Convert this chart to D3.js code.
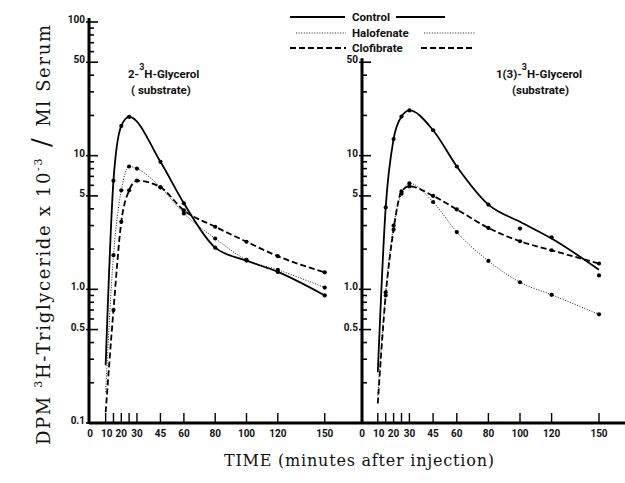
<!DOCTYPE html>
<html>
<head>
<meta charset="utf-8">
<script src="https://cdn.jsdelivr.net/npm/d3@7"></script>
<style>
  body { margin: 0; background: #fff; }
  svg { display: block; }
  .lbl { font-family: Roboto, "DejaVu Sans", sans-serif; font-weight: bold; font-size: 10px; fill: #111; }
  .ann { font-family: Roboto, "DejaVu Sans", sans-serif; font-weight: bold; font-size: 11.5px; fill: #111; }
  .title { font-family: "DejaVu Serif", "Liberation Serif", serif; fill: #111; }
</style>
</head>
<body>
<div id="chart"></div>
<script>
// sampling times (minutes after injection)
const times = [10, 15, 20, 25, 30, 45, 60, 80, 100, 120, 150];

// 2-3H-Glycerol panel (DPM x 10^-3 / ml serum), measured points
const leftControl    = [0.27, 6.5, 16.7, 19.5, null, 9.0, 4.4, 2.05, 1.64, 1.35, 0.9];
const leftHalofenate = [0.17, 1.8, 5.5, 8.3, 8.0, 5.8, 3.7, 2.4, 1.66, 1.4, 1.03];
const leftClofibrate = [0.12, 0.7, 3.2, 5.5, 6.5, 5.8, 3.9, 2.94, 2.27, 1.77, 1.34];

// 1(3)-3H-Glycerol panel, measured points
const rightControl    = [0.24, 4.1, 13.3, 19.6, 21.8, 15.5, 8.3, 4.3, 2.85, 2.45, 1.27];
const rightHalofenate = [0.16, 0.95, 3.0, 5.2, 6.2, 4.5, 2.68, 1.63, 1.13, 0.91, 0.65];
const rightClofibrate = [0.14, 0.9, 2.8, 5.4, 5.9, 5.0, 3.96, 2.88, 2.29, 1.96, 1.56];

// hand-drawn smooth curve for the right control (it does not pass through every point)
const rightControlCurve = [0.24, 4.1, 13.3, 19.6, 21.8, 15.5, 8.3, 4.3, 3.2, 2.4, 1.4];

const xTicks = [10, 15, 20, 25, 30, 45, 60, 80, 100, 120, 150];
const xTickLabels = [0, 10, 20, 30, 45, 60, 80, 100, 120, 150];
const leftYLabels = [0.1, 0.5, 1, 5, 10, 50, 100];
const rightYLabels = [0.5, 1, 5, 10, 50];
const legendNames = ["Control", "Halofenate", "Clofibrate"];

const W = 625, H = 483;
const svg = d3.select("#chart").append("svg").attr("width", W).attr("height", H);

const y = d3.scaleLog().domain([0.1, 100]).range([423, 22]);
const xLeft = d3.scaleLinear().domain([0, 150]).range([90, 324.75]);
const xRight = d3.scaleLinear().domain([0, 150]).range([362, 599]);

const styles = {
  Control:    {width: 1.8, dash: null},
  Halofenate: {width: 0.9, dash: "1,1.6"},
  Clofibrate: {width: 1.8, dash: "6,3"}
};

function yTickValues(top) {
  let v = [];
  [0.1, 1, 10].forEach(d => {
    for (let i = 1; i < 10; i++) if (d * i <= top + 1e-9) v.push(+(d * i).toFixed(2));
  });
  if (top >= 100) v.push(100);
  return v;
}

function fmt(v) {
  return v == 1 ? "1.0" : String(v);
}

function drawPanel(x, axisX, yTop, xEnd, yLabels, series) {
  const g = svg.append("g");

  // y axis
  g.append("line")
    .attr("x1", axisX).attr("x2", axisX)
    .attr("y1", y(yTop) - 4).attr("y2", 424)
    .attr("stroke", "#000").attr("stroke-width", 3);

  yTickValues(yTop).forEach(v => {
    let major = yLabels.includes(v) || v == 100 || v == 0.1;
    g.append("line")
      .attr("x1", axisX - (major ? 3 : 1)).attr("x2", axisX + (major ? 9 : 5))
      .attr("y1", y(v)).attr("y2", y(v))
      .attr("stroke", "#000").attr("stroke-width", 1.6);
  });
  yLabels.forEach(v => {
    g.append("text").attr("class", "lbl")
      .attr("x", axisX - 4).attr("y", y(v) + 1)
      .attr("text-anchor", "end")
      .text(fmt(v));
  });

  // x axis
  g.append("line")
    .attr("x1", axisX).attr("x2", xEnd)
    .attr("y1", 423).attr("y2", 423)
    .attr("stroke", "#000").attr("stroke-width", 3);
  xTicks.forEach(t => {
    g.append("line")
      .attr("x1", x(t)).attr("x2", x(t))
      .attr("y1", 413).attr("y2", 423)
      .attr("stroke", "#000").attr("stroke-width", 1.4);
  });
  xTickLabels.forEach(t => {
    g.append("text").attr("class", "lbl")
      .attr("x", x(t) + (t == 10 ? 1 : 0)).attr("y", 437)
      .attr("text-anchor", "middle")
      .text(t);
  });

  // curves and points
  series.forEach(s => {
    let pts = times.map((t, i) => [t, s.values[i]]).filter(d => d[1] != null);
    let cv = s.curve || s.values;
    let cpts = times.map((t, i) => [t, cv[i]]).filter(d => d[1] != null);
    let line = d3.line()
      .x(d => x(d[0])).y(d => y(d[1]))
      .curve(d3.curveMonotoneX);
    g.append("path")
      .attr("d", line(cpts))
      .attr("fill", "none")
      .attr("stroke", "#000")
      .attr("stroke-width", styles[s.name].width)
      .attr("stroke-dasharray", styles[s.name].dash);
    g.selectAll(null).data(pts.slice(1)).enter().append("circle")
      .attr("cx", d => x(d[0])).attr("cy", d => y(d[1]))
      .attr("r", 2.1).attr("fill", "#000");
  });
}

drawPanel(xLeft, 89, 100, 362, leftYLabels, [
  {name: "Control", values: leftControl},
  {name: "Halofenate", values: leftHalofenate},
  {name: "Clofibrate", values: leftClofibrate}
]);
drawPanel(xRight, 362, 50, 625, rightYLabels, [
  {name: "Control", values: rightControl, curve: rightControlCurve},
  {name: "Halofenate", values: rightHalofenate},
  {name: "Clofibrate", values: rightClofibrate}
]);

// legend
const legendRows = [
  {y: 17, l: [290, 345], r: [396, 445]},
  {y: 33, l: [296, 346], r: [424, 475]},
  {y: 48, l: [290, 346], r: [421, 475]}
];
legendNames.forEach((n, i) => {
  let row = legendRows[i];
  [row.l, row.r].forEach(seg => {
    svg.append("line")
      .attr("x1", seg[0]).attr("x2", seg[1])
      .attr("y1", row.y).attr("y2", row.y)
      .attr("stroke", "#000")
      .attr("stroke-width", styles[n].width)
      .attr("stroke-dasharray", styles[n].dash);
  });
  svg.append("text").attr("class", "ann")
    .attr("x", 352).attr("y", row.y + 4)
    .text(n);
});

// panel annotations
let a1 = svg.append("text").attr("class", "ann").attr("x", 128).attr("y", 78);
a1.append("tspan").text("2-");
a1.append("tspan").attr("dy", -8).attr("font-size", 9).text("3");
a1.append("tspan").attr("dy", 8).text("H-Glycerol");
svg.append("text").attr("class", "ann").attr("x", 131).attr("y", 94).text("( substrate)");

let a2 = svg.append("text").attr("class", "ann").attr("x", 496).attr("y", 78);
a2.append("tspan").text("1(3)-");
a2.append("tspan").attr("dy", -8).attr("font-size", 9).text("3");
a2.append("tspan").attr("dy", 8).text("H-Glycerol");
svg.append("text").attr("class", "ann").attr("x", 512).attr("y", 94).text("(substrate)");

// axis titles
svg.append("text").attr("class", "title")
  .attr("x", 224).attr("y", 466)
  .attr("font-size", 16)
  .attr("textLength", 270).attr("lengthAdjust", "spacing")
  .text("TIME (minutes after injection)");

let yt = svg.append("text").attr("class", "title")
  .attr("transform", "translate(50,445) rotate(-90)")
  .attr("font-size", 18)
  .attr("textLength", 420).attr("lengthAdjust", "spacing");
yt.append("tspan").text("DPM  ");
yt.append("tspan").attr("dy", -8).attr("font-size", 11).text("3");
yt.append("tspan").attr("dy", 8).text("H-Triglyceride x 10");
yt.append("tspan").attr("dy", -8).attr("font-size", 11).text("-3");
yt.append("tspan").attr("dy", 8).attr("font-size", 26).text(" / ");
yt.append("tspan").text("Ml Serum");
</script>
</body>
</html>
